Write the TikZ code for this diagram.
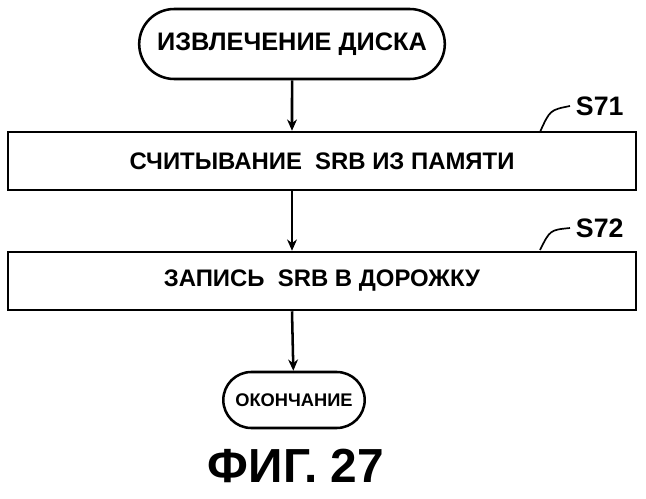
\documentclass[tikz,border=0pt]{standalone}
\usepackage{fontspec}
\setmainfont{Liberation Sans}
\usetikzlibrary{positioning,shapes.misc,arrows.meta}
\begin{document}
\begin{tikzpicture}[x=0.025cm,y=-0.025cm,line width=1.8pt,
  term/.style={draw,rounded rectangle,font=\bfseries\fontsize{18}{20}\selectfont,inner xsep=14pt},
  stepbox/.style={draw,minimum width=628*0.025cm,minimum height=58*0.025cm,font=\bfseries\fontsize{17}{19}\selectfont},
  tag/.style={font=\bfseries\fontsize{19}{21}\selectfont},
  flow/.style={-{Stealth[length=8pt,width=7pt]}}]
  \useasboundingbox (0,0) rectangle (646,499);
  \node[term,minimum width=345*0.025cm,minimum height=70*0.025cm] (start) at (292,44) {ИЗВЛЕЧЕНИЕ ДИСКА};
  \node[stepbox] (s71) at (322,161) {СЧИТЫВАНИЕ\ \ SRB ИЗ ПАМЯТИ};
  \node[stepbox] (s72) at (322,281) {ЗАПИСЬ\ \ SRB В ДОРОЖКУ};
  \node[term,minimum width=140*0.025cm,minimum height=56*0.025cm,inner xsep=8pt,font=\bfseries\fontsize{13}{15}\selectfont] (stop) at (294,400) {ОКОНЧАНИЕ};
  \node[font=\bfseries\fontsize{34}{38}\selectfont] (fig) at (296,466) {ФИГ. 27};
  \node[tag,anchor=west] (t71) at (570,106) {S71};
  \node[tag,anchor=west] (t72) at (570,228) {S72};
  % connectors
  \draw[flow] (start) -- (start.south |- s71.north);
  \draw[flow] (start.south |- s71.south) -- (start.south |- s72.north);
  \draw[flow] (start.south |- s72.south) -- (stop);
  \coordinate (c71) at (540,132);
  \coordinate (c72) at (540,250);
  \draw[line width=1.2pt] (c71) .. controls (550,110) .. (t71.west);
  \draw[line width=1.2pt] (c72) .. controls (550,230) .. (t72.west);
\end{tikzpicture}
\end{document}
